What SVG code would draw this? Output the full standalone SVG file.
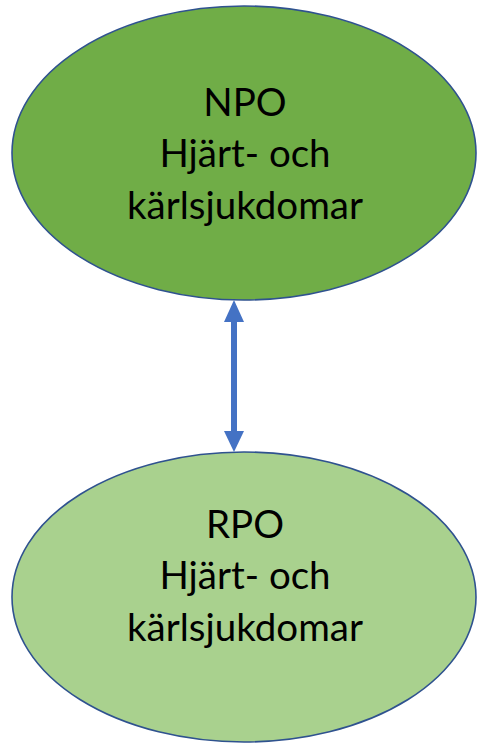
<svg xmlns="http://www.w3.org/2000/svg" width="477" height="745" viewBox="0 0 477 745">
<style>
.node{stroke:#2F528F;stroke-width:1.6}
.t{font-family:Lato,"Open Sans","Liberation Sans",sans-serif;font-size:38.5px;fill:#000;text-anchor:middle}
.conn{stroke:#4472C4;stroke-width:6;fill:none}
.head{fill:#4472C4}
</style>
<g id="npo">
<ellipse class="node" cx="244" cy="153" rx="232" ry="147" fill="#70AD47"/>
<text class="t" x="245" y="116">NPO</text>
<text class="t" x="245" y="167">Hjärt- och</text>
<text class="t" x="245" y="219">kärlsjukdomar</text>
</g>
<g id="rpo">
<ellipse class="node" cx="244" cy="597" rx="232" ry="145" fill="#A9D18E"/>
<text class="t" x="245" y="538">RPO</text>
<text class="t" x="245" y="589">Hjärt- och</text>
<text class="t" x="245" y="641">kärlsjukdomar</text>
</g>
<g id="connectors">
<line class="conn" x1="234" y1="320" x2="234" y2="433"/>
<polygon class="head" points="234,300 224,322 244,322"/>
<polygon class="head" points="234,452 224,431 244,431"/>
</g>
</svg>
